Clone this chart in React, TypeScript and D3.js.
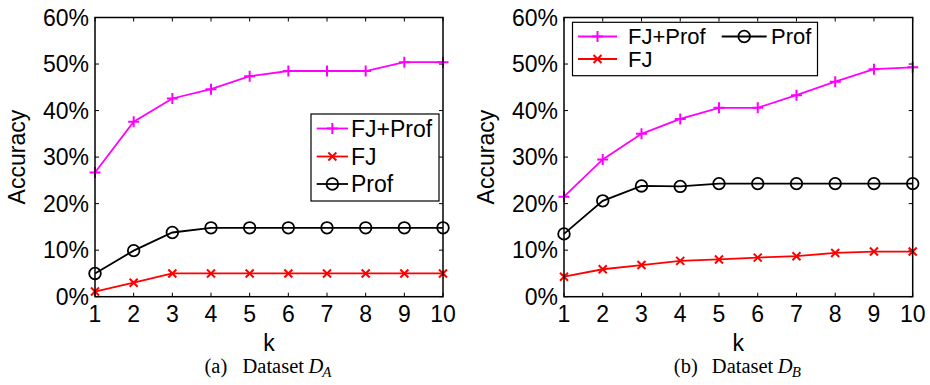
import React from "react";
import * as d3 from "d3";

const ks = [1, 2, 3, 4, 5, 6, 7, 8, 9, 10];
const yTicks = [0, 10, 20, 30, 40, 50, 60];

const aFJProf = [26.7, 37.6, 42.6, 44.6, 47.4, 48.5, 48.5, 48.5, 50.4, 50.4];
const aFJ = [1.1, 3.0, 5.0, 5.0, 5.0, 5.0, 5.0, 5.0, 5.0, 5.0];
const aProf = [5.0, 9.9, 13.8, 14.8, 14.8, 14.8, 14.8, 14.8, 14.8, 14.8];

const bFJProf = [21.5, 29.5, 35.0, 38.2, 40.6, 40.6, 43.3, 46.2, 48.9, 49.3];
const bFJ = [4.3, 5.9, 6.8, 7.7, 8.0, 8.4, 8.7, 9.4, 9.7, 9.7];
const bProf = [13.5, 20.6, 23.8, 23.7, 24.3, 24.3, 24.3, 24.3, 24.3, 24.3];

const seriesNames = ["FJ+Prof", "FJ", "Prof"];
const seriesColors = ["#ff00ff", "#ff0000", "#000000"];
const seriesMarkers = ["plus", "x", "circle"];

const FONT = "'Liberation Sans', Arial, Helvetica, sans-serif";
const SERIF = "'Liberation Serif', 'Times New Roman', serif";
const FS = 23;

function Marker({ type, x, y, color }: { type: string; x: number; y: number; color: string }) {
  if (type === "plus") {
    const s = 5.5;
    return (
      <path d={`M${x - s},${y}H${x + s}M${x},${y - s}V${y + s}`} stroke={color} strokeWidth={2} fill="none" />
    );
  }
  if (type === "x") {
    const s = 4;
    return (
      <path
        d={`M${x - s},${y - s}L${x + s},${y + s}M${x - s},${y + s}L${x + s},${y - s}`}
        stroke={color}
        strokeWidth={2}
        fill="none"
      />
    );
  }
  return <circle cx={x} cy={y} r={5.8} stroke={color} strokeWidth={1.8} fill="none" />;
}

function Panel({
  left,
  right,
  top,
  bottom,
  data,
  legend,
  label,
  sub,
  ylabX,
}: {
  left: number;
  right: number;
  top: number;
  bottom: number;
  data: number[][];
  legend: any;
  label: string;
  sub: string;
  ylabX: number;
}) {
  const x = d3.scaleLinear().domain([1, 10]).range([left, right]);
  const y = d3.scaleLinear().domain([0, 60]).range([bottom, top]);
  const line = d3
    .line<number>()
    .x((_, i) => x(ks[i]))
    .y((d) => y(d));
  const tl = 4;
  const order = [2, 1, 0];
  const cx = (left + right) / 2;
  const capX = cx - 64.5;
  return (
    <g>
      {yTicks.map((t) => (
        <g key={"y" + t}>
          <line x1={left} x2={left + tl} y1={y(t)} y2={y(t)} stroke="#000" strokeWidth={1} />
          <line x1={right} x2={right - tl} y1={y(t)} y2={y(t)} stroke="#000" strokeWidth={1} />
          <text
            x={left - 6}
            y={y(t)}
            dy="0.36em"
            textAnchor="end"
            fontFamily={FONT}
            fontSize={FS}
            fill="#000"
          >
            {t + "%"}
          </text>
        </g>
      ))}
      {ks.map((k) => (
        <g key={"x" + k}>
          <line x1={x(k)} x2={x(k)} y1={bottom} y2={bottom - tl} stroke="#000" strokeWidth={1} />
          <line x1={x(k)} x2={x(k)} y1={top} y2={top + tl} stroke="#000" strokeWidth={1} />
          <text
            x={x(k)}
            y={bottom + 25.5}
            textAnchor="middle"
            fontFamily={FONT}
            fontSize={FS}
            fill="#000"
          >
            {k}
          </text>
        </g>
      ))}
      {order.map((si) => (
        <g key={"s" + si}>
          <path d={line(data[si]) || ""} stroke={seriesColors[si]} strokeWidth={1.8} fill="none" />
          {data[si].map((v, i) => (
            <Marker key={i} type={seriesMarkers[si]} x={x(ks[i])} y={y(v)} color={seriesColors[si]} />
          ))}
        </g>
      ))}
      <rect x={left} y={top} width={right - left} height={bottom - top} fill="none" stroke="#000" strokeWidth={1.5} />
      <rect
        x={legend.x}
        y={legend.y}
        width={legend.w}
        height={legend.h}
        fill="#fff"
        stroke="#000"
        strokeWidth={1.2}
      />
      {legend.items.map((it: any, i: number) => {
        const si = it.s;
        const mx = (it.lx0 + it.lx1) / 2;
        return (
          <g key={"l" + i}>
            <line x1={it.lx0} x2={it.lx1} y1={it.y} y2={it.y} stroke={seriesColors[si]} strokeWidth={1.8} />
            <Marker type={seriesMarkers[si]} x={mx} y={it.y} color={seriesColors[si]} />
            <text x={it.tx} y={it.y} dy="0.36em" fontFamily={FONT} fontSize={legend.fs} fill="#000">
              {seriesNames[si]}
            </text>
          </g>
        );
      })}
      <text
        transform={`translate(${ylabX},${(top + bottom) / 2}) rotate(-90)`}
        textAnchor="middle"
        fontFamily={FONT}
        fontSize={FS}
        fill="#000"
      >
        Accuracy
      </text>
      <text x={cx} y={bottom + 54} textAnchor="middle" fontFamily={FONT} fontSize={FS} fill="#000">
        k
      </text>
      <g fontFamily={SERIF} fontSize={20.5} fill="#000">
        <text x={capX} y={bottom + 76}>
          {label}
        </text>
        <text x={capX + 38} y={bottom + 76}>
          Dataset
        </text>
        <text x={capX + 104} y={bottom + 76} fontStyle="italic">
          D
          <tspan fontSize={15} dy={4} dx={-1}>
            {sub}
          </tspan>
        </text>
      </g>
    </g>
  );
}

export default function App() {
  const top = 17.5;
  const bottom = 296.7;
  const legA = {
    x: 311,
    y: 114,
    w: 128,
    h: 87,
    fs: FS,
    items: [
      { s: 0, y: 128.5, lx0: 316.7, lx1: 348, tx: 351 },
      { s: 1, y: 156.5, lx0: 316.7, lx1: 348, tx: 351 },
      { s: 2, y: 184, lx0: 316.7, lx1: 348, tx: 351 },
    ],
  };
  const legB = {
    x: 572.5,
    y: 22.3,
    w: 245,
    h: 53.4,
    fs: 22,
    items: [
      { s: 0, y: 36.5, lx0: 578, lx1: 617, tx: 628 },
      { s: 1, y: 59, lx0: 578, lx1: 617, tx: 628 },
      { s: 2, y: 36.5, lx0: 721.7, lx1: 766.7, tx: 771 },
    ],
  };
  return (
    <svg
      width={930}
      height={385}
      viewBox="0 0 930 385"
      style={{ position: "absolute", left: 0, top: 0, background: "#fff" }}
    >
      <rect width={930} height={385} fill="#fff" />
      <Panel
        left={95}
        right={443}
        top={top}
        bottom={bottom}
        data={[aFJProf, aFJ, aProf]}
        legend={legA}
        label="(a)"
        sub="A"
        ylabX={25}
      />
      <Panel
        left={564}
        right={912.7}
        top={top}
        bottom={bottom}
        data={[bFJProf, bFJ, bProf]}
        legend={legB}
        label="(b)"
        sub="B"
        ylabX={494}
      />
    </svg>
  );
}
